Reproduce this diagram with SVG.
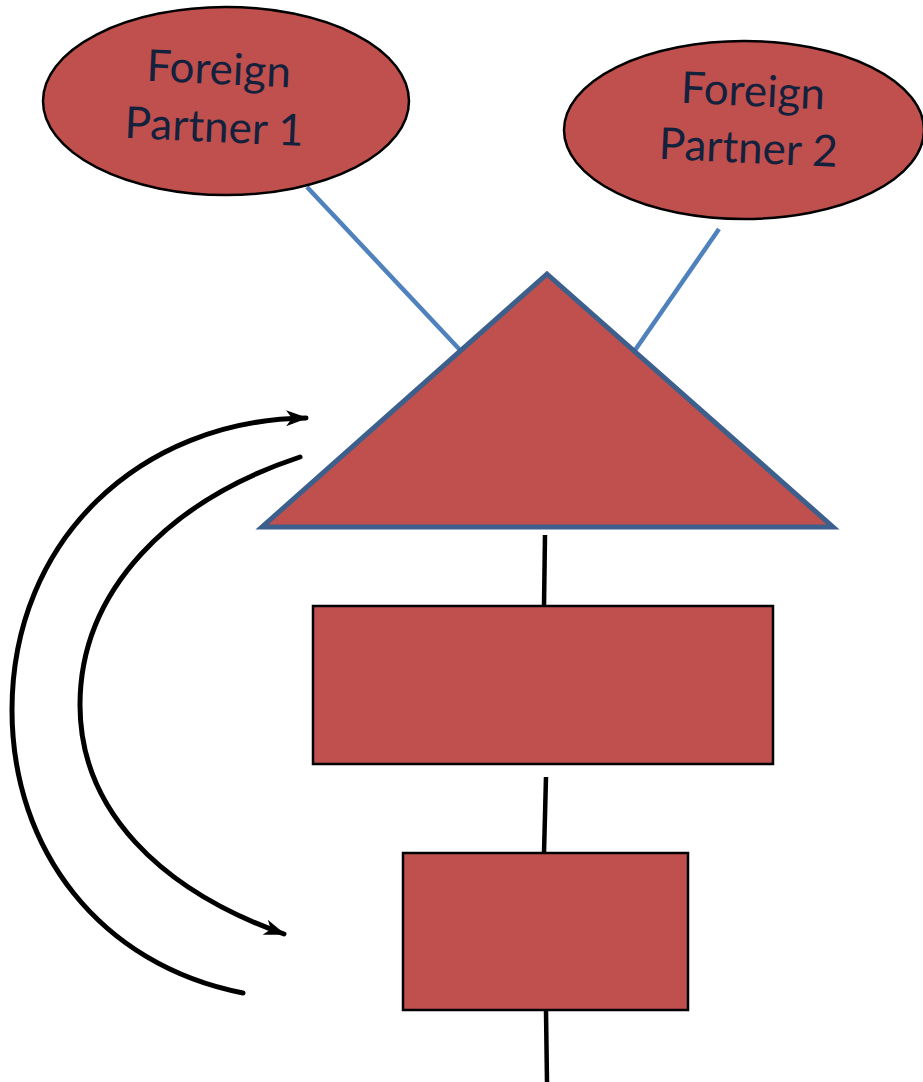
<svg xmlns="http://www.w3.org/2000/svg" width="923" height="1082" viewBox="0 0 923 1082">
<style>
.shape{fill:#c0504d;stroke:#000;stroke-width:2.5}
.lbl{font-family:Lato,"Open Sans",sans-serif;font-size:44px;fill:#14213d;text-anchor:middle}
.blue{stroke:#4f81bd;stroke-width:4.5;fill:none}
.blk{stroke:#000;stroke-width:4.5;fill:none}
.arc{stroke:#000;stroke-width:5;fill:none;stroke-linecap:round}
</style>
<defs>
<marker id="ah" viewBox="0 0 22 16" refX="20" refY="8" markerWidth="22" markerHeight="16" markerUnits="userSpaceOnUse" orient="auto">
<path d="M0,0 L22,8 L0,16 L6,8 z" fill="#000"/>
</marker>
</defs>
<rect width="923" height="1082" fill="#fff"/>
<g id="connectors">
<line class="blue" x1="307" y1="187" x2="461" y2="351"/>
<line class="blue" x1="719" y1="229" x2="631" y2="356"/>
<line class="blk" x1="545" y1="535" x2="544" y2="606"/>
<line class="blk" x1="546" y1="777" x2="544" y2="853"/>
<line class="blk" x1="546" y1="1011" x2="547" y2="1082"/>
<path class="arc" d="M243,993 C100,965 12,850 12,710 C12,540 140,420 306,418" marker-end="url(#ah)"/>
<path class="arc" d="M300,457 C170,500 80,590 80,705 C80,810 160,890 284,934" marker-end="url(#ah)"/>
</g>
<g id="partner1">
<ellipse class="shape" cx="226" cy="101" rx="183" ry="94"/>
<g transform="rotate(2.6 216 110)">
<text class="lbl" x="217" y="84">Foreign</text>
<text class="lbl" x="215" y="142">Partner 1</text>
</g>
</g>
<g id="partner2">
<ellipse class="shape" cx="744" cy="130" rx="180" ry="89"/>
<g transform="rotate(2.6 750 134)">
<text class="lbl" x="751" y="106">Foreign</text>
<text class="lbl" x="749" y="163">Partner 2</text>
</g>
</g>
<g id="triangle">
<polygon points="547,274 833,527 262,527" fill="#c0504d" stroke="#3c5f8c" stroke-width="5" stroke-linejoin="miter"/>
</g>
<g id="box1">
<rect class="shape" x="313" y="606" width="460" height="158"/>
</g>
<g id="box2">
<rect class="shape" x="403" y="853" width="285" height="157"/>
</g>
</svg>
